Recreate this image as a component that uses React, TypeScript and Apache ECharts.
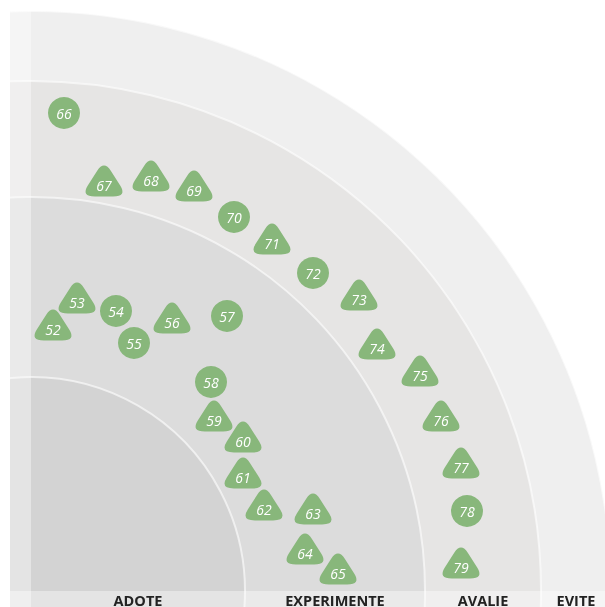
import React, { useEffect, useRef } from "react";
import * as echarts from "echarts";

// Ring outer radii (radar units from the quadrant centre) and names
const ringNames = ["ADOTE", "EXPERIMENTE", "AVALIE", "EVITE"];
const ringRadii = [214, 394, 510, 580];
const ringColors = ["#d3d3d3", "#dcdcdc", "#e6e5e4", "#efefef"];

// Circle blips
const circleIds = [66, 70, 72, 78, 54, 55, 57, 58];
const circleX = [33, 203, 282, 436, 85, 103, 196, 180];
const circleY = [478, 374, 318, 80, 280, 248, 275, 209];

// Triangle blips
const triIds = [67, 68, 69, 71, 73, 74, 75, 76, 77, 79, 52, 53, 56, 59, 60, 61, 62, 63, 64, 65];
const triX = [73, 120, 163, 241, 328, 346, 389, 410, 430, 430, 22, 46, 141, 183, 212, 212, 233, 282, 274, 307];
const triY = [410, 415, 405, 352, 296, 247, 220, 175, 128, 28, 266, 293, 273, 175, 154, 118, 86, 82, 42, 22];

const GREEN = "#88b77b";
const TRI_PATH =
  "path://M33.2 21.5 Q50 -8 66.8 21.5 L89.2 60.5 Q106 90 72 90 L28 90 Q-6 90 10.8 60.5 Z";

export default function App() {
  const ref = useRef<HTMLDivElement>(null);

  useEffect(() => {
    if (!ref.current) return;
    const chart = echarts.init(ref.current, null, { renderer: "svg" });

    const ringData = ringRadii.map((r, i) => [r, i]).reverse();
    const labelData = ringNames.map((n, i) => [
      ((i === 0 ? 0 : ringRadii[i - 1]) + ringRadii[i]) / 2,
      -9.5,
      n,
    ]);

    const blipLabel = {
      show: true,
      position: "inside",
      color: "#ffffff",
      fontStyle: "italic",
      fontSize: 14,
      fontFamily: "'Open Sans', sans-serif",
      formatter: (p: any) => String(p.value[2]),
    };

    const option: any = {
      animation: false,
      grid: { left: 31, right: 0, top: 0, bottom: 16 },
      xAxis: { type: "value", min: 0, max: 574, show: false },
      yAxis: { type: "value", min: 0, max: 591, show: false },
      graphic: [
        { type: "rect", z: 5, shape: { x: 0, y: 0, width: 10, height: 607 }, style: { fill: "#ffffff" } },
        { type: "rect", z: 5, shape: { x: 0, y: 0, width: 605, height: 10 }, style: { fill: "#ffffff" } },
        { type: "rect", z: 6, shape: { x: 10, y: 10, width: 21, height: 597 }, style: { fill: "rgba(255,255,255,0.4)" } },
        { type: "rect", z: 6, shape: { x: 10, y: 591, width: 595, height: 16 }, style: { fill: "rgba(255,255,255,0.4)" } },
      ],
      series: [
        {
          type: "custom",
          z: 1,
          clip: false,
          silent: true,
          data: ringData,
          renderItem: (params: any, api: any) => {
            const r = api.value(0);
            const idx = api.value(1);
            const c = api.coord([0, 0]);
            const rp = api.size([r, 0])[0];
            return {
              type: "circle",
              shape: { cx: c[0], cy: c[1], r: rp },
              style: {
                fill: ringColors[idx],
                stroke: "rgba(255,255,255,0.6)",
                lineWidth: 2,
              },
            };
          },
        },
        {
          type: "custom",
          z: 10,
          clip: false,
          silent: true,
          data: labelData,
          renderItem: (params: any, api: any) => {
            const p = api.coord([api.value(0), api.value(1)]);
            return {
              type: "text",
              x: p[0],
              y: p[1],
              style: {
                text: labelData[params.dataIndex][2],
                fill: "#222222",
                font: "bold 14.5px 'Open Sans', sans-serif",
                lineHeight: 13,
                align: "center",
                verticalAlign: "middle",
              },
            };
          },
        },
        {
          type: "scatter",
          z: 10,
          symbol: "circle",
          symbolSize: 32,
          itemStyle: { color: GREEN, opacity: 1 },
          label: blipLabel,
          data: circleIds.map((id, i) => [circleX[i], circleY[i], id]),
        },
        {
          type: "scatter",
          z: 10,
          symbol: TRI_PATH,
          symbolSize: [37, 31],
          itemStyle: { color: GREEN, opacity: 1 },
          label: { ...blipLabel, offset: [0, 4] },
          data: triIds.map((id, i) => [triX[i], triY[i], id]),
        },
      ],
    };

    chart.setOption(option);
    return () => chart.dispose();
  }, []);

  return (
    <div
      ref={ref}
      style={{ position: "fixed", left: 0, top: 0, width: 605, height: 607 }}
    />
  );
}
